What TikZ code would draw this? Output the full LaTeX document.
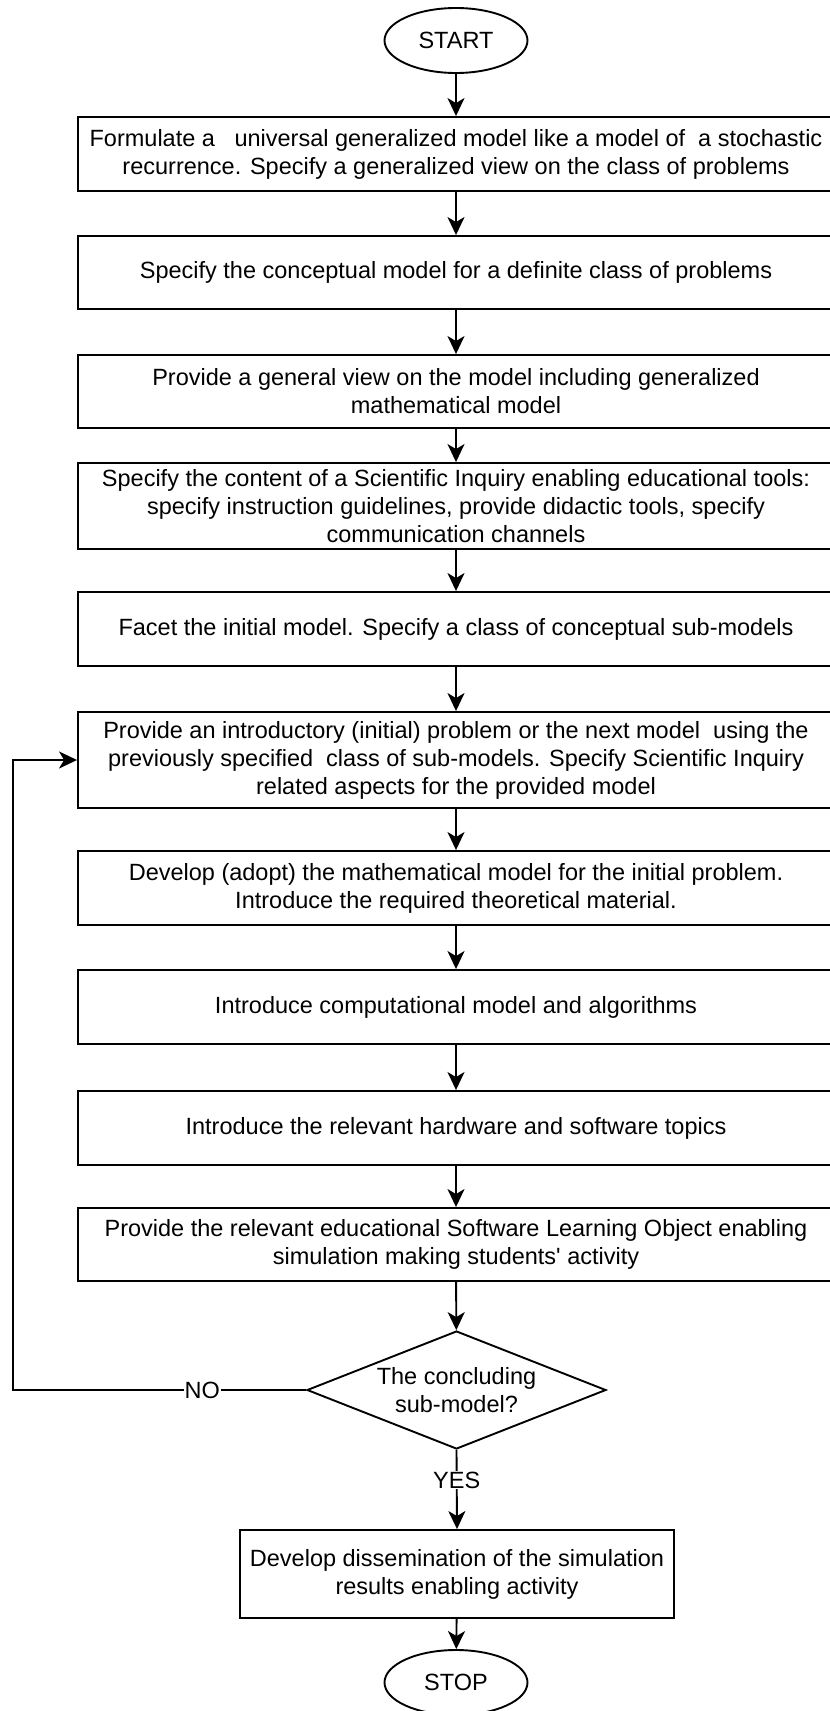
\documentclass[tikz,border=0pt]{standalone}
\usepackage{fontspec}
\setmainfont{Liberation Sans}
\usetikzlibrary{shapes.geometric,arrows.meta}
\begin{document}
\begin{tikzpicture}[x=1pt,y=-1pt,
  every node/.style={font=\fontsize{23.5}{28}\selectfont},
  stepbox/.style={draw, line width=1.9pt, rectangle, align=center, minimum width=756pt, inner sep=0pt},
  term/.style={draw, line width=1.9pt, ellipse, minimum width=143pt, minimum height=65pt, inner sep=0pt},
  decide/.style={draw, line width=1.9pt, diamond, aspect=2.53, minimum width=299pt, minimum height=118pt, inner sep=0pt, align=center},
  arr/.style={line width=1.9pt, -{Stealth[length=18pt, width=17pt, inset=5pt]}},
  lbl/.style={fill=white, inner sep=1pt}
]
\useasboundingbox (0,0) rectangle (830,1711);

\node[term] (start) at (456,40.5) {START};
\node[stepbox, minimum height=74pt] (b1) at (456,154) {Formulate a \ \ universal generalized model like a model of \ a stochastic\\recurrence. Specify a generalized view on the class of problems};
\node[stepbox, minimum height=73pt] (b2) at (456,272.5) {Specify the conceptual model for a definite class of problems};
\node[stepbox, minimum height=73pt] (b3) at (456,391.5) {Provide a general view on the model including generalized\\mathematical model};
\node[stepbox, minimum height=86pt] (b4) at (456,506) {Specify the content of a Scientific Inquiry enabling educational tools:\\specify instruction guidelines, provide didactic tools, specify\\communication channels};
\node[stepbox, minimum height=74pt] (b5) at (456,629) {Facet the initial model. Specify a class of conceptual sub-models};
\node[stepbox, minimum height=96pt] (b6) at (456,760) {Provide an introductory (initial) problem or the next model \ using the\\previously specified \ class of sub-models. Specify Scientific Inquiry\\related aspects for the provided model};
\node[stepbox, minimum height=74pt] (b7) at (456,888) {Develop (adopt) the mathematical model for the initial problem.\\Introduce the required theoretical material.};
\node[stepbox, minimum height=74pt] (b8) at (456,1007) {Introduce computational model and algorithms};
\node[stepbox, minimum height=74pt] (b9) at (456,1128) {Introduce the relevant hardware and software topics};
\node[stepbox, minimum height=73pt] (b10) at (456,1244.5) {Provide the relevant educational Software Learning Object enabling\\simulation making students\textquotesingle{} activity};
\node[decide] (d) at (456.5,1390) {The concluding\\sub-model?};
\node[stepbox, minimum width=434pt, minimum height=88pt] (b11) at (457,1574) {Develop dissemination of the simulation\\results enabling activity};
\node[term] (stop) at (456,1682.5) {STOP};

\coordinate (lp) at (13,1390);

\draw[arr] (start) -- (b1);
\draw[arr] (b1) -- (b2);
\draw[arr] (b2) -- (b3);
\draw[arr] (b3) -- (b4);
\draw[arr] (b4) -- (b5);
\draw[arr] (b5) -- (b6);
\draw[arr] (b6) -- (b7);
\draw[arr] (b7) -- (b8);
\draw[arr] (b8) -- (b9);
\draw[arr] (b9) -- (b10);
\draw[arr] (b10) -- (d);
\draw[arr] (d.south) -- node[lbl, pos=0.38] {YES} (b11.north);
\draw[arr] (b11) -- (stop);
\draw[arr] (d.west) -- node[lbl, pos=0.354] {NO} (lp) |- (b6.west);
\end{tikzpicture}
\end{document}
